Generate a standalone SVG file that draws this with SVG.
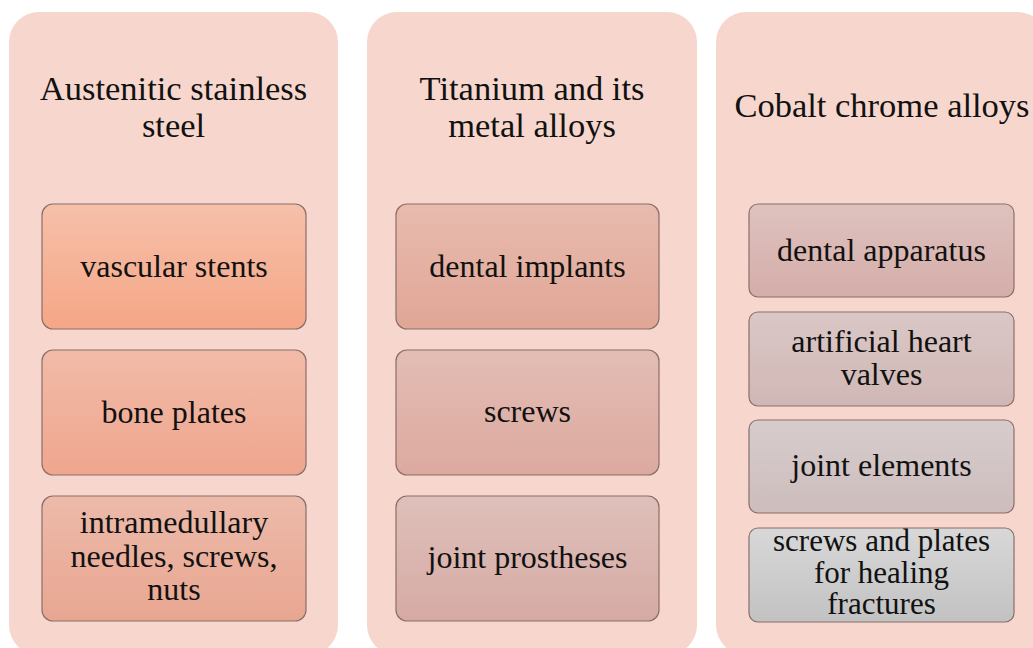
<svg xmlns="http://www.w3.org/2000/svg" width="1033" height="648" viewBox="0 0 1033 648">
<defs>
<linearGradient id="g11" x1="0" y1="0" x2="0" y2="1"><stop offset="0" stop-color="#F6C0A9"/><stop offset="1" stop-color="#F5A687"/></linearGradient>
<linearGradient id="g12" x1="0" y1="0" x2="0" y2="1"><stop offset="0" stop-color="#F2BBA8"/><stop offset="1" stop-color="#EFA68E"/></linearGradient>
<linearGradient id="g13" x1="0" y1="0" x2="0" y2="1"><stop offset="0" stop-color="#EDBAAA"/><stop offset="1" stop-color="#E8A691"/></linearGradient>
<linearGradient id="g21" x1="0" y1="0" x2="0" y2="1"><stop offset="0" stop-color="#E8BBAE"/><stop offset="1" stop-color="#E0A696"/></linearGradient>
<linearGradient id="g22" x1="0" y1="0" x2="0" y2="1"><stop offset="0" stop-color="#E3BDB4"/><stop offset="1" stop-color="#DCA99F"/></linearGradient>
<linearGradient id="g23" x1="0" y1="0" x2="0" y2="1"><stop offset="0" stop-color="#DFC0BA"/><stop offset="1" stop-color="#D6AAA4"/></linearGradient>
<linearGradient id="g31" x1="0" y1="0" x2="0" y2="1"><stop offset="0" stop-color="#DEC2BE"/><stop offset="1" stop-color="#D5ADAA"/></linearGradient>
<linearGradient id="g32" x1="0" y1="0" x2="0" y2="1"><stop offset="0" stop-color="#DAC8C6"/><stop offset="1" stop-color="#D0B7B5"/></linearGradient>
<linearGradient id="g33" x1="0" y1="0" x2="0" y2="1"><stop offset="0" stop-color="#D7CCCC"/><stop offset="1" stop-color="#CDBDBD"/></linearGradient>
<linearGradient id="g34" x1="0" y1="0" x2="0" y2="1"><stop offset="0" stop-color="#D8D8D8"/><stop offset="1" stop-color="#C2C2C2"/></linearGradient>
</defs>
<style>
.col{fill:#F7D7CD;}
.box{stroke:#8A6E6A;stroke-width:1.2;}
text{font-family:"Liberation Serif","Times New Roman",serif;fill:#111;text-anchor:middle;}
.t{font-size:34.5px;}
.b{font-size:32px;}
.s{font-size:31px;}
</style>
<rect width="1033" height="648" fill="#FFFFFF"/>
<g id="col1">
<rect class="col" x="9" y="12" width="329" height="643" rx="30"/>
<text class="t" x="173.5" y="100">Austenitic stainless</text>
<text class="t" x="173.5" y="137">steel</text>
</g>
<g id="col2">
<rect class="col" x="367" y="12" width="330" height="643" rx="30"/>
<text class="t" x="532" y="100">Titanium and its</text>
<text class="t" x="532" y="137">metal alloys</text>
</g>
<g id="col3">
<rect class="col" x="716" y="12" width="331" height="643" rx="30"/>
<text class="t" x="882" y="117">Cobalt chrome alloys</text>
</g>
<g id="n11"><rect class="box" x="42" y="204" width="264" height="125" rx="11" fill="url(#g11)"/><text class="b" x="174" y="277">vascular stents</text></g>
<g id="n12"><rect class="box" x="42" y="350" width="264" height="125" rx="11" fill="url(#g12)"/><text class="b" x="174" y="423">bone plates</text></g>
<g id="n13"><rect class="box" x="42" y="496" width="264" height="125" rx="11" fill="url(#g13)"/><text class="b" x="174" y="533">intramedullary</text><text class="b" x="174" y="567">needles, screws,</text><text class="b" x="174" y="600">nuts</text></g>
<g id="n21"><rect class="box" x="396" y="204" width="263" height="125" rx="11" fill="url(#g21)"/><text class="b" x="527.5" y="277">dental implants</text></g>
<g id="n22"><rect class="box" x="396" y="350" width="263" height="125" rx="11" fill="url(#g22)"/><text class="b" x="527.5" y="422">screws</text></g>
<g id="n23"><rect class="box" x="396" y="496" width="263" height="125" rx="11" fill="url(#g23)"/><text class="b" x="527.5" y="568">joint prostheses</text></g>
<g id="n31"><rect class="box" x="749" y="204" width="265" height="93" rx="9" fill="url(#g31)"/><text class="b" x="881.5" y="261">dental apparatus</text></g>
<g id="n32"><rect class="box" x="749" y="312" width="265" height="94" rx="9" fill="url(#g32)"/><text class="b" x="881.5" y="352">artificial heart</text><text class="b" x="881.5" y="385">valves</text></g>
<g id="n33"><rect class="box" x="749" y="420" width="265" height="93" rx="9" fill="url(#g33)"/><text class="b" x="881.5" y="476">joint elements</text></g>
<g id="n34"><rect class="box" x="749" y="528" width="265" height="94" rx="9" fill="url(#g34)"/><text class="s" x="881.5" y="551">screws and plates</text><text class="s" x="881.5" y="583">for healing</text><text class="s" x="881.5" y="614">fractures</text></g>
<g id="connectors"></g>
</svg>
